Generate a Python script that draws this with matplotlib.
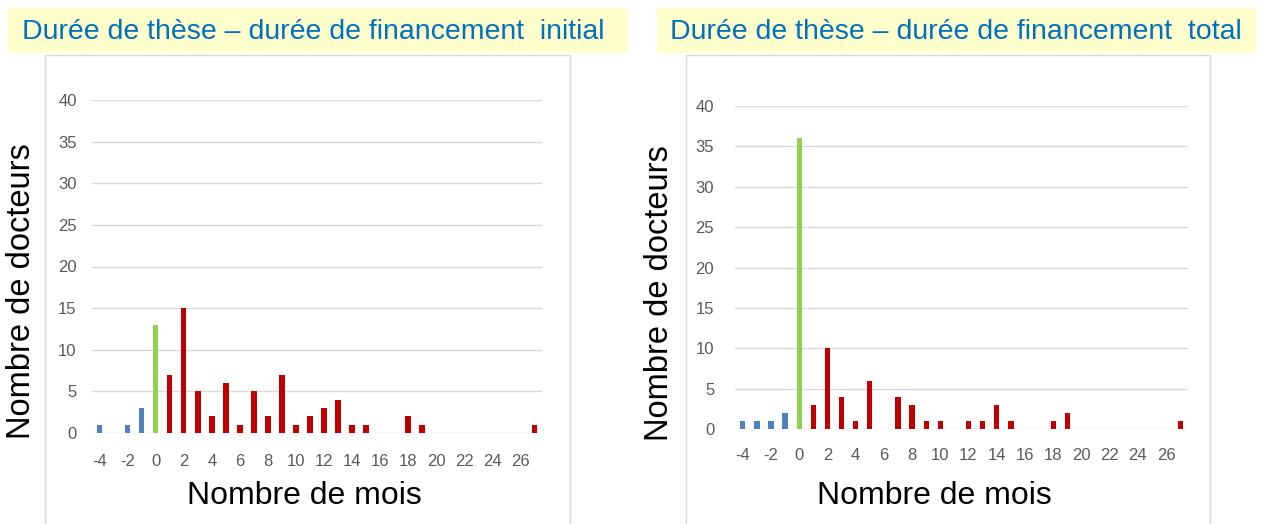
import matplotlib.pyplot as plt
from matplotlib.patches import Rectangle

plt.rcParams['font.family'] = ['Liberation Sans', 'DejaVu Sans']
plt.rcParams['axes.unicode_minus'] = False

# months difference (thesis duration - funding duration)
months = list(range(-4, 28))

# number of doctors per month, initial funding
initial_counts = [1, 0, 1, 3, 13, 7, 15, 5, 2, 6, 1, 5, 2, 7, 1, 2,
                  3, 4, 1, 1, 0, 0, 2, 1, 0, 0, 0, 0, 0, 0, 0, 1]
# number of doctors per month, total funding
total_counts = [1, 1, 1, 2, 36, 3, 10, 4, 1, 6, 0, 4, 3, 1, 1, 0,
                1, 1, 3, 1, 0, 0, 1, 2, 0, 0, 0, 0, 0, 0, 0, 1]

titles = ["Durée de thèse \u2013 durée de financement  initial",
          "Durée de thèse \u2013 durée de financement  total"]
xlabel = "Nombre de mois"
ylabel = "Nombre de docteurs"

BLUE = "#4F81BD"
GREEN = "#92D050"
RED = "#C00000"
GRID = "#D9D9D9"
TICK = "#595959"
TITLE_BG = "#FFFFCC"
TITLE_FG = "#0070C0"

W, H = 1263, 524


def px(x, y, w, h):
    """Convert pixel box (top-left origin) to figure fraction box"""
    return [x / W, 1 - (y + h) / H, w / W, h / H]


def bar_colors(xs):
    return [BLUE if m < 0 else (GREEN if m == 0 else RED) for m in xs]


def plot_hist(ax: plt.Axes, counts: list, xlab_pos: tuple, ylab_pos: tuple, ypad: float, xpad: float):
    ax.bar(months, counts, width=0.38, color=bar_colors(months), zorder=3)
    ax.set_xlim(-4.55, 27.55)
    ax.set_ylim(0, 40)
    ax.set_yticks(range(0, 41, 5))
    ax.set_xticks(range(-4, 27, 2))
    ax.grid(axis='y', color=GRID, linewidth=1, zorder=0)
    for s in ax.spines.values():
        s.set_visible(False)
    ax.tick_params(axis='both', length=0, labelsize=12, colors=TICK)
    ax.tick_params(axis='x', pad=xpad)
    ax.tick_params(axis='y', pad=ypad)
    ax.set_xlabel(xlabel, fontsize=23)
    ax.xaxis.set_label_coords(*xlab_pos)
    ax.set_ylabel(ylabel, fontsize=23.5)
    ax.yaxis.set_label_coords(*ylab_pos)


def main():
    fig = plt.figure(figsize=(W / 100, H / 100), dpi=100)

    # panel frames and title boxes
    for (x0, w) in [(45, 525), (686, 524)]:
        fig.patches.append(Rectangle((x0 / W, -0.01), w / W, (H - 55) / H + 0.01,
                                     transform=fig.transFigure, facecolor='none',
                                     edgecolor=GRID, linewidth=1))
    for (x0, w), (tx, title) in zip([(8, 620), (657, 599)], zip([22, 670], titles)):
        fig.patches.append(Rectangle((x0 / W, 1 - 53 / H), w / W, 45 / H,
                                     transform=fig.transFigure, facecolor=TITLE_BG,
                                     edgecolor='none'))
        fig.text(tx / W, 1 - 32 / H, title, fontsize=20.5, color=TITLE_FG,
                 ha='left', va='center')

    ax1 = fig.add_axes(px(92, 100, 450, 333))
    ax2 = fig.add_axes(px(735, 106, 453, 323))
    plot_hist(ax1, initial_counts, (0.473, -0.145), (-0.122, 0.425), 11, 15)
    plot_hist(ax2, total_counts, (0.44, -0.16), (-0.133, 0.42), 15, 14)

    fig.savefig("out.png", dpi=100)


if __name__ == "__main__":
    main()
